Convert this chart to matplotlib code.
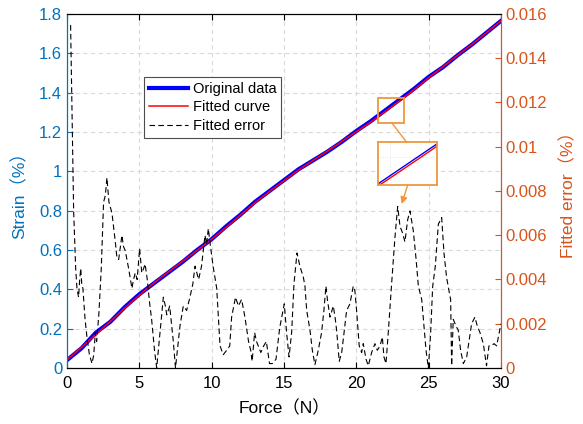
import matplotlib
matplotlib.use('Agg')
import matplotlib.pyplot as plt
from matplotlib.patches import Rectangle
from matplotlib.lines import Line2D
from matplotlib.ticker import FuncFormatter

plt.rcParams['font.family'] = ['Liberation Sans', 'Noto Sans CJK SC']

# Strain vs force (original data and fitted curve)
force = [0, 1, 2, 3, 4, 5, 6, 7, 8, 9, 10, 11, 12, 13, 14, 15,
         16, 17, 18, 19, 20, 21, 22, 23, 24, 25, 26, 27, 28, 29, 30]
strain_orig = [0.04, 0.10, 0.18, 0.235, 0.31, 0.375, 0.43, 0.485, 0.54, 0.60,
               0.655, 0.72, 0.78, 0.845, 0.90, 0.955, 1.01, 1.055, 1.10, 1.15,
               1.205, 1.255, 1.31, 1.365, 1.42, 1.48, 1.53, 1.59, 1.645, 1.705, 1.765]
strain_fit = [0.042, 0.105, 0.17, 0.237, 0.305, 0.37, 0.432, 0.488, 0.543, 0.598,
              0.655, 0.715, 0.778, 0.84, 0.897, 0.952, 1.006, 1.055, 1.103, 1.152,
              1.202, 1.250, 1.304, 1.359, 1.415, 1.475, 1.533, 1.59, 1.646, 1.705, 1.765]

# Fitted error (%)
err_force = [0.25, 0.35, 0.46, 0.6, 0.69, 0.8, 0.88, 0.95, 1.02, 1.1, 1.25, 1.38, 1.55,
             1.73, 1.85, 1.96, 2.05, 2.2, 2.37, 2.53, 2.65, 2.76, 2.9, 3.11, 3.34, 3.45,
             3.57, 3.8, 3.9, 4.03, 4.26, 4.49, 4.6, 4.72, 4.85, 5.02, 5.17, 5.3, 5.4,
             5.55, 5.7, 5.85, 6.05, 6.2, 6.43, 6.66, 6.8, 6.9, 7.1, 7.35, 7.5, 7.81,
             8.04, 8.27, 8.5, 8.7, 8.85, 9.1, 9.3, 9.54, 9.65, 9.77, 9.9, 10.1, 10.35,
             10.58, 10.8, 11.04, 11.25, 11.38, 11.65, 11.85, 12.07, 12.3, 12.55, 12.7,
             12.8, 12.97, 13.1, 13.4, 13.6, 13.78, 14.0, 14.2, 14.45, 14.7, 15.02,
             15.18, 15.35, 15.53, 15.69, 15.9, 16.1, 16.34, 16.45, 16.57, 16.8, 16.96,
             17.14, 17.37, 17.6, 17.76, 17.9, 18.0, 18.18, 18.41, 18.53, 18.64, 18.82,
             18.99, 19.1, 19.33, 19.56, 19.79, 19.9, 20.02, 20.2, 20.37, 20.48, 20.67,
             20.83, 21.06, 21.29, 21.45, 21.64, 21.8, 21.91, 22.05, 22.21, 22.44, 22.67,
             22.86, 23.02, 23.2, 23.36, 23.55, 23.71, 23.94, 24.12, 24.29, 24.52, 24.68,
             24.82, 24.98, 25.14, 25.28, 25.46, 25.67, 25.9, 26.06, 26.24, 26.43, 26.52,
             26.59, 26.7, 26.89, 27.05, 27.21, 27.4, 27.63, 27.81, 27.97, 28.2, 28.36,
             28.55, 28.78, 29.0, 29.17, 29.35, 29.52, 29.7, 30.0]
err_val = [0.0155, 0.0115, 0.0071, 0.0045, 0.0036, 0.0032, 0.0040, 0.0045, 0.0038, 0.0036,
           0.0022, 0.0014, 0.0006, 0.0002, 0.0006, 0.0016, 0.0012, 0.0024, 0.0045, 0.0075,
           0.0078, 0.0086, 0.0075, 0.0070, 0.0057, 0.0050, 0.0049, 0.0060, 0.0055, 0.0053,
           0.0045, 0.0036, 0.0040, 0.0043, 0.0040, 0.0054, 0.0043, 0.0045, 0.0047, 0.0040,
           0.0030, 0.0022, 0.0008, 0.0, 0.0016, 0.0032, 0.0028, 0.0024, 0.0028, 0.0012,
           0.0, 0.0019, 0.0028, 0.0026, 0.0032, 0.0038, 0.0046, 0.0040, 0.0046, 0.0060,
           0.0056, 0.0063, 0.0056, 0.0046, 0.0036, 0.0010, 0.0006, 0.0008, 0.0010, 0.0023,
           0.0032, 0.0028, 0.0031, 0.0023, 0.0012, 0.0008, 0.0003, 0.0016, 0.0012, 0.0007,
           0.0010, 0.0012, 0.0002, 0.0002, 0.0004, 0.0018, 0.0029,
           0.0016, 0.0005, 0.0016, 0.0038, 0.0052, 0.0046, 0.0041, 0.0037, 0.0026, 0.0017,
           0.0008, 0.00015, 0.0008, 0.0016, 0.0026, 0.0037, 0.0031, 0.0023, 0.0028, 0.0023,
           0.0017, 0.0003, 0.0007, 0.0013, 0.0026, 0.0029, 0.0037, 0.0035, 0.0026, 0.0010,
           0.0007, 0.0011, 0.0004, 0.0001, 0.0007, 0.0011, 0.0008, 0.0010, 0.0014, 0.0005,
           0.0002, 0.0016, 0.0038, 0.0059, 0.0073, 0.0064, 0.0061, 0.0057, 0.0067, 0.0071,
           0.0062, 0.0050, 0.0037, 0.0031, 0.0019, 0.0008, 0.0, 0.0016, 0.0037, 0.0046,
           0.0065, 0.0068, 0.0052, 0.0041, 0.0034, 0.0031, 0.0001, 0.0022, 0.0019, 0.0017,
           0.0008, 0.0002, 0.0005, 0.0013, 0.0020, 0.0023, 0.0019, 0.0016, 0.0011, 0.0001,
           0.0010, 0.0010, 0.0011, 0.0010, 0.0020]

BLUE = '#0072BD'
ORANGE = '#D95319'
BOX = '#F0963C'

fig = plt.figure(figsize=(5.83, 4.24), dpi=100)
ax1 = fig.add_axes([0.1149, 0.1321, 0.7444, 0.8349])
ax2 = ax1.twinx()

ax1.plot(force, strain_orig, color='blue', linewidth=3, label='Original data')
ax1.plot(force, strain_fit, color='red', linewidth=1.1, label='Fitted curve')
ax2.plot(err_force, err_val, color='black', linewidth=0.8, linestyle=(0, (5, 3)),
         label='Fitted error')

ax1.set_xlim(0, 30)
ax1.set_ylim(0, 1.8)
ax2.set_ylim(0, 0.016)
ax1.set_xticks(range(0, 31, 5))
ax1.set_yticks([i * 0.2 for i in range(10)])
ax2.set_yticks([i * 0.002 for i in range(9)])
fmt = FuncFormatter(lambda v, p: '%g' % round(v, 4))
ax1.yaxis.set_major_formatter(fmt)
ax2.yaxis.set_major_formatter(fmt)

ax1.grid(True, color='0.85', linestyle=(0, (4, 3)), linewidth=0.8)
ax1.set_axisbelow(True)

ax1.tick_params(axis='x', direction='in', length=4, top=True, labelsize=12, pad=6)
ax1.tick_params(axis='y', direction='in', length=4, colors=BLUE, labelsize=12)
ax2.tick_params(axis='y', direction='in', length=4, colors=ORANGE, labelsize=12)
ax1.spines['left'].set_color(BLUE)
ax2.spines['left'].set_color(BLUE)
ax2.spines['right'].set_color(ORANGE)
ax1.spines['right'].set_color(ORANGE)

ax1.set_xlabel('Force（N）', fontsize=12.5, labelpad=6)
ax1.set_ylabel('Strain（%）', fontsize=12.5, color=BLUE, labelpad=8)
ax2.set_ylabel('Fitted error（%）', fontsize=12.5, color=ORANGE, labelpad=9)

h1, l1 = ax1.get_legend_handles_labels()
h2, l2 = ax2.get_legend_handles_labels()
leg = ax2.legend(h1 + h2, l1 + l2, loc='upper left', bbox_to_anchor=(0.177, 0.822),
                 borderaxespad=0, fancybox=False, edgecolor='0.3', framealpha=1,
                 fontsize=10.5, handlelength=2.7, handletextpad=0.3,
                 labelspacing=0.3, borderpad=0.35)
leg.get_frame().set_linewidth(0.8)

# zoom box on the curve
ax1.add_patch(Rectangle((21.48, 1.247), 1.84, 0.124, fill=False,
                        edgecolor=BOX, linewidth=1.3, zorder=5))

# inset
axin = fig.add_axes([0.648, 0.5637, 0.1022, 0.1007])
axin.plot(force, strain_orig, color='blue', linewidth=1)
axin.plot(force, strain_fit, color='red', linewidth=1)
axin.set_xlim(21.48, 23.32)
axin.set_ylim(1.279, 1.386)
axin.set_xticks([21.85])
axin.set_yticks([1.348])
axin.tick_params(length=0, labelbottom=False, labelleft=False)
axin.grid(True, color='0.88', linestyle=':', linewidth=0.6)
for s in axin.spines.values():
    s.set_color(BOX)
    s.set_linewidth(1.3)

W, H = 583.0, 424.0
fig.add_artist(Line2D([391.7 / W, 406.7 / W], [1 - 122.7 / H, 1 - 142.3 / H],
                      transform=fig.transFigure, color=BOX, linewidth=1))
ax2.annotate('', xy=(401.7 / W, 1 - 204 / H), xycoords='figure fraction',
             xytext=(407.7 / W, 1 - 185 / H), textcoords='figure fraction',
             arrowprops=dict(arrowstyle='-|>', color=BOX, lw=1, mutation_scale=10,
                             shrinkA=0, shrinkB=0))

fig.savefig('out.png', dpi=100)
